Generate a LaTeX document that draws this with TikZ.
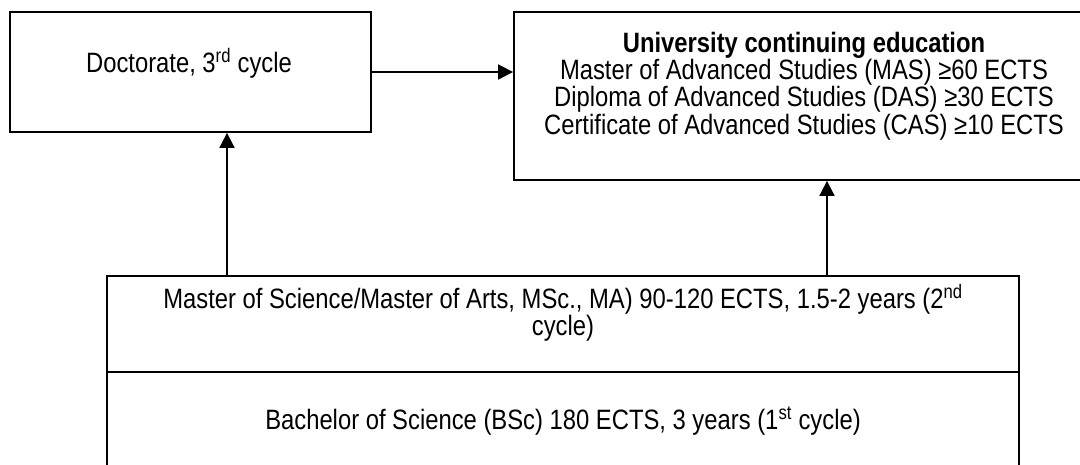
\documentclass[tikz,border=0pt]{standalone}
\usepackage{fontspec}
\setmainfont{Liberation Sans}[FakeStretch=0.85]
\usetikzlibrary{arrows.meta}
\newcommand{\lines}[1]{\begin{tabular}[t]{@{}c@{}}#1\end{tabular}}
\begin{document}
\begin{tikzpicture}[x=1pt,y=-1pt,
  box/.style={draw, line width=1.8pt, inner sep=0pt},
  txt/.style={inner sep=0pt, anchor=base, font=\fontsize{28}{24}\selectfont},
  conn/.style={line width=1.8pt, -{Triangle[length=15pt,width=15pt]}}]
\useasboundingbox (0,0) rectangle (1080,464);
% boxes
\node[box, minimum width=361, minimum height=120] (doc) at (190.5,72) {};
\node[box, minimum width=580, minimum height=168] (uce) at (804,96) {};
\node[box, minimum width=912, minimum height=96] (msc) at (563,324) {};
\node[box, minimum width=912, minimum height=110] (bsc) at (563,427) {};
% texts
\node[txt] (doctxt) at (189,72) {Doctorate, 3\textsuperscript{rd} cycle};
\node[txt] (ucetxt) at (804,52) {\lines{\textbf{University continuing education}\\
  Master of Advanced Studies (MAS) ≥60 ECTS\\
  Diploma of Advanced Studies (DAS) ≥30 ECTS\\
  Certificate of Advanced Studies (CAS) ≥10 ECTS}};
\node[txt] (msctxt) at (563,308) {\lines{Master of Science/Master of Arts, MSc., MA) 90-120 ECTS, 1.5-2 years (2\textsuperscript{nd}\\cycle)}};
\node[txt] (bsctxt) at (563,429) {Bachelor of Science (BSc) 180 ECTS, 3 years (1\textsuperscript{st} cycle)};
% connectors
\draw[conn] (doc.east) -- (uce.west |- doc.east);
\draw[conn] (msc.north -| 227,0) -- (doc.south -| 227,0);
\draw[conn] (msc.north -| 827,0) -- (uce.south -| 827,0);
\end{tikzpicture}
\end{document}
